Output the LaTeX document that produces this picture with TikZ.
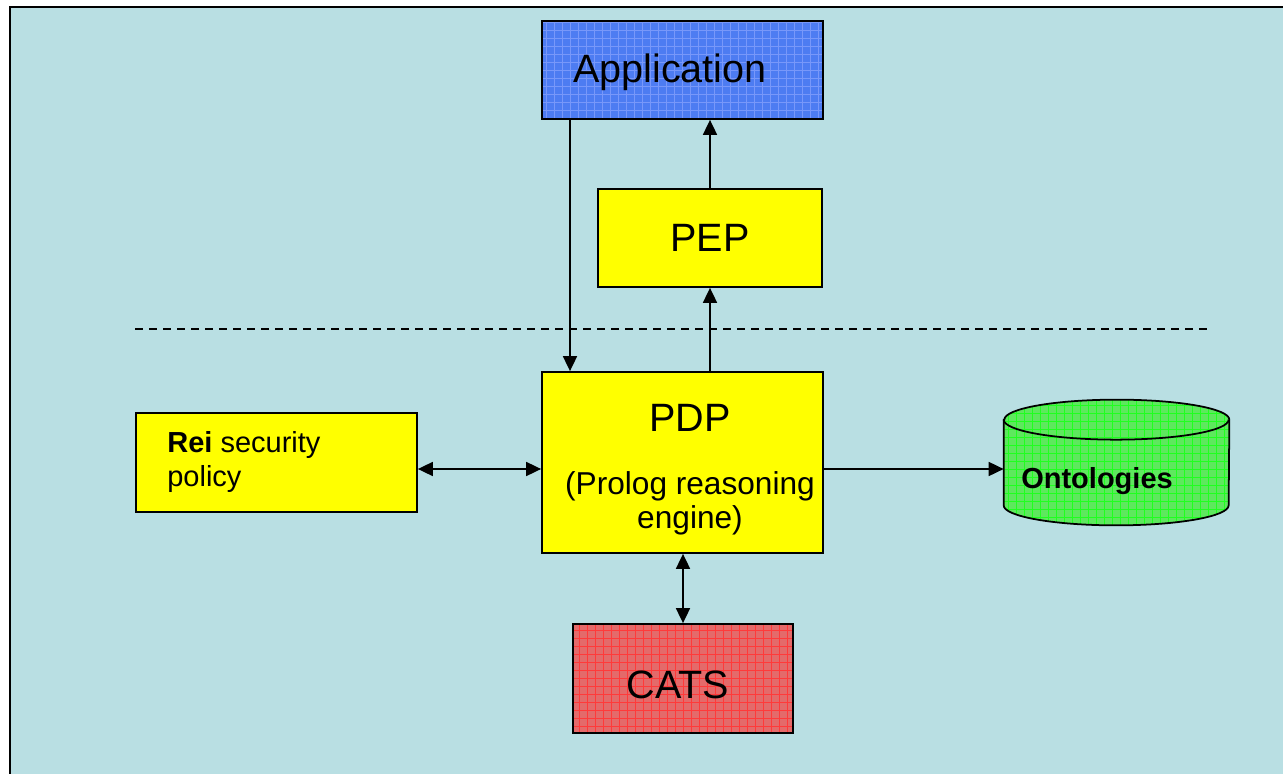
\documentclass[tikz,border=0pt]{standalone}
\usepackage{fontspec}
\setmainfont{Liberation Sans}
\usepackage{tikz}
\usetikzlibrary{arrows.meta,calc}
\usepackage{xcolor}
\definecolor{bgteal}{HTML}{B9DFE3}
\definecolor{boxyellow}{HTML}{FFFF00}
\definecolor{appblue}{HTML}{4D7CF2}
\definecolor{appgrid}{HTML}{7898FA}
\definecolor{catsred}{HTML}{E46A6A}
\definecolor{catsgrid}{HTML}{FF3A3A}
\definecolor{ontogreen}{HTML}{5EE85E}
\definecolor{ontogrid}{HTML}{20FF20}

\tikzset{
  box/.style={draw=black,line width=1pt,rectangle,inner sep=0pt},
  texture/.style={path picture={
    \draw[#1,line width=0.3pt,step=0.16cm]
      (path picture bounding box.south west) grid (path picture bounding box.north east);}},
  big/.style={font=\fontsize{22.5}{27}\selectfont},
  link/.style={line width=1pt,-{Triangle[length=0.3cm,width=0.28cm]}},
  twoway/.style={line width=1pt,{Triangle[length=0.3cm,width=0.28cm]}-{Triangle[length=0.3cm,width=0.28cm]}}
}

\begin{document}
\begin{tikzpicture}
  % 画布：1283 x 773 px，1 px = 0.02 cm
  \useasboundingbox (0,0) rectangle (25.66,15.46);
  \clip (0,0) rectangle (25.66,15.46);
  \fill[white] (0,0) rectangle (25.66,15.46);
  \draw[line width=1.1pt,fill=bgteal] (0.2,-0.5) rectangle (26.2,15.32);

  % 上层：应用与 PEP
  \node[box,fill=appblue,texture=appgrid,minimum width=5.62cm,minimum height=1.96cm] (app) at (13.65,14.06) {};
  \node[big] (apptext) at (13.4,14.02) {Application};
  \node[box,fill=boxyellow,minimum width=4.48cm,minimum height=1.96cm] (pep) at (14.2,10.70) {};
  \node[big] (peptext) at (pep.center) {PEP};

  % 分隔虚线
  \coordinate (sepL) at (2.7,8.88);
  \coordinate (sepR) at (24.16,8.88);
  \draw[line width=0.9pt,dash pattern=on 0.16cm off 0.12cm] (sepL) -- (sepR);

  % 下层：PDP、策略、本体、CATS
  \node[box,fill=boxyellow,minimum width=5.62cm,minimum height=3.62cm] (pdp) at (13.65,6.21) {};
  \node[big] (pdptitle) at (13.8,7.10) {PDP};
  \node[align=center,font=\fontsize{18}{19.3}\selectfont] (pdpnote) at (13.8,5.40) {(Prolog reasoning\\engine)};

  \node[box,fill=boxyellow,minimum width=5.62cm,minimum height=1.98cm] (rei) at (5.53,6.21) {};
  \node[anchor=west,align=left,inner sep=0pt,font=\fontsize{16.5}{19.8}\selectfont] (reitext) at (3.34,6.22) {\textbf{Rei} security\\policy};

  % 本体：圆柱体，顶面椭圆 rx = 2.25, ry = 0.4
  \node[minimum width=4.5cm,minimum height=2.5cm,inner sep=0pt] (onto) at (22.33,6.21) {};
  \draw[line width=1pt,fill=ontogreen,texture=ontogrid]
    ($(onto.north west)+(0,-0.4)$) -- ($(onto.south west)+(0,0.4)$)
    arc (180:360:2.25cm and 0.4cm) -- ($(onto.north east)+(0,-0.4)$)
    arc (0:180:2.25cm and 0.4cm) -- cycle;
  \draw[line width=1pt] ($(onto.north west)+(0,-0.4)$) arc (180:360:2.25cm and 0.4cm);
  \node[font=\bfseries\fontsize{16.5}{19.8}\selectfont] (ontotext) at (21.94,5.84) {Ontologies};

  \node[box,fill=catsred,texture=catsgrid,minimum width=4.4cm,minimum height=2.18cm] (cats) at (13.66,1.89) {};
  \node[big] (catstext) at (13.56,1.76) {CATS};

  % 连线
  \draw[link] ([xshift=-2.25cm]app.south) -- ([xshift=-2.25cm]app.south |- pdp.north);
  \draw[link] (pdp.north -| pep.south) -- (pep.south);
  \draw[link] (pep.north) -- (pep.north |- app.south);
  \draw[twoway] ([yshift=-0.13cm]rei.east) -- ([yshift=-0.13cm]pdp.west);
  \draw[link] ([yshift=-0.13cm]pdp.east) -- ([yshift=-0.13cm]onto.west);
  \draw[twoway] (pdp.south -| cats.north) -- (cats.north);
\end{tikzpicture}
\end{document}
